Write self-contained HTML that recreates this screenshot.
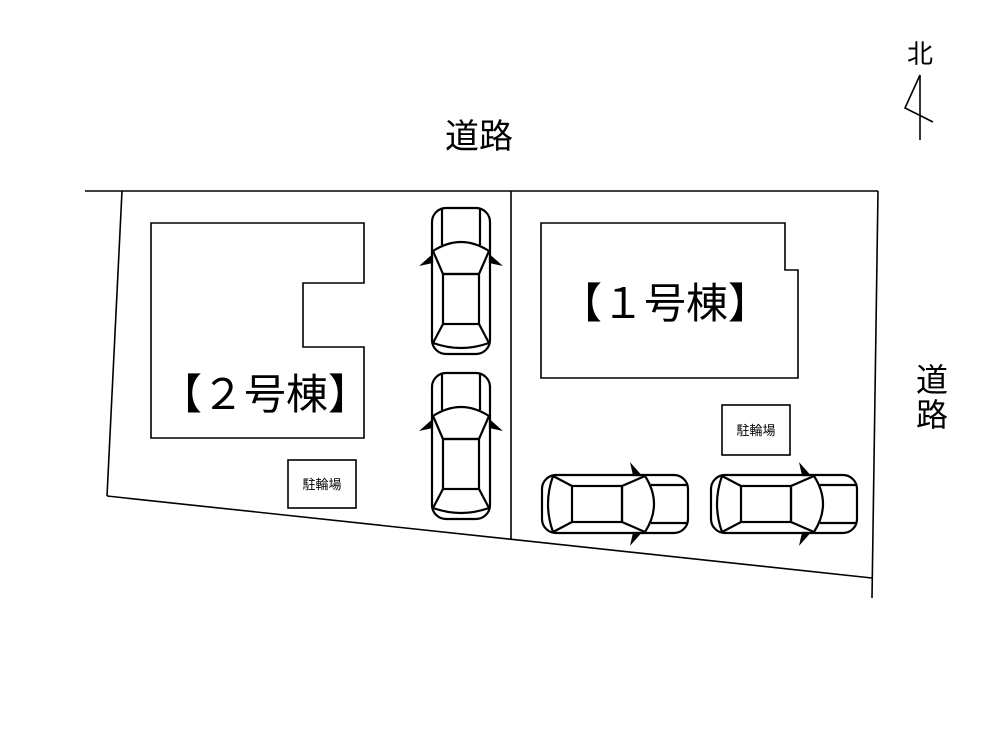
<!DOCTYPE html>
<html><head><meta charset="utf-8"><style>body{margin:0;background:#fff}svg{display:block}text{font-family:"Liberation Sans","Noto Sans CJK JP",sans-serif;fill:#000}</style></head><body>
<svg width="1000" height="751" viewBox="0 0 1000 751">
<defs>
<g id="car" fill="none" stroke="#000" stroke-width="2.2">
<rect x="-29" y="-73" width="58" height="146" rx="14" fill="#fff"/>
<line x1="-19" y1="-72" x2="-19" y2="-36"/><line x1="19" y1="-72" x2="19" y2="-36"/>
<path d="M-28,-30 Q0,-48 28,-30 L18,-7 L-18,-7 Z"/>
<rect x="-18" y="-7" width="36" height="50"/>
<path d="M-18,43 L-28,62 Q0,72 28,62 L18,43"/>
<path d="M-29,-19 L-38,-17 L-29,-25 Z" fill="#000"/>
<path d="M29,-19 L38,-17 L29,-25 Z" fill="#000"/>
</g>
</defs>
<g stroke="#000" stroke-width="1.6" fill="none">
<line x1="85" y1="191" x2="878" y2="191"/>
<line x1="122" y1="191" x2="107" y2="496"/>
<line x1="107" y1="496" x2="872" y2="578"/>
<line x1="878" y1="191" x2="872" y2="598"/>
<line x1="511" y1="191" x2="511" y2="539"/>
<polygon points="151,223 364,223 364,283 303,283 303,347 364,347 364,438 151,438"/>
<polygon points="541,223 785,223 785,270 798,270 798,378 541,378"/>
<rect x="288" y="460" width="68" height="48"/>
<rect x="722" y="405" width="68" height="50"/>
<line x1="920" y1="75" x2="920" y2="140"/>
<polyline points="920,75 905,108 933,122"/>
</g>
<use href="#car" transform="translate(461,281)"/>
<use href="#car" transform="translate(461,446)"/>
<use href="#car" transform="translate(615,504) rotate(90)"/>
<use href="#car" transform="translate(784,504) rotate(90)"/>
<text x="479" y="148" font-size="34" text-anchor="middle">道路</text>
<text x="932" y="391" font-size="32" text-anchor="middle">道</text>
<text x="932" y="426" font-size="32" text-anchor="middle">路</text>
<text x="920" y="63" font-size="26" text-anchor="middle">北</text>
<text x="265" y="409" font-size="42" text-anchor="middle">【２号棟】</text>
<text x="665" y="318" font-size="42" text-anchor="middle">【１号棟】</text>
<text x="322" y="489" font-size="13" text-anchor="middle">駐輪場</text>
<text x="756" y="435" font-size="13" text-anchor="middle">駐輪場</text>
</svg>
</body></html>
